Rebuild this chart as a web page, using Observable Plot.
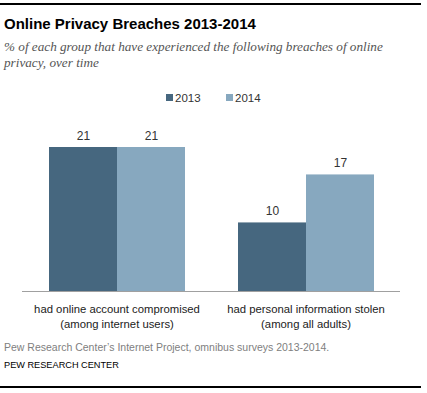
<!DOCTYPE html>
<html>
<head>
<meta charset="utf-8">
<script src="https://cdn.jsdelivr.net/npm/d3@7"></script>
<script src="https://cdn.jsdelivr.net/npm/@observablehq/plot@0.6"></script>
<style>
  html, body { margin: 0; padding: 0; background: #fff; overflow: hidden; width: 427px; height: 393px; }
  #wrap { position: relative; width: 427px; height: 393px; overflow: hidden; font-family: "Liberation Sans", Arial, sans-serif; }
  .rule { position: absolute; left: 0; width: 421px; height: 0; border-top: 2px solid #000; }
  #title { position: absolute; left: 4px; top: 15px; font-size: 15px; font-weight: bold; color: #000; line-height: 18px; white-space: nowrap; }
  #subtitle { position: absolute; left: 4px; top: 39px; font-family: "Liberation Serif", serif; font-style: italic; font-size: 13.2px; color: #555; line-height: 16px; white-space: nowrap; }
  #legend { position: absolute; top: 91px; left: 0; width: 427px; height: 16px; font-size: 11.5px; color: #333; }
  .litem { position: absolute; white-space: nowrap; line-height: 14px; }
  .sw { display: inline-block; width: 7px; height: 7px; margin-right: 2px; vertical-align: 1px; }
  #chart { position: absolute; left: 0; top: 120px; width: 427px; height: 215px; }
  #chart svg { display: block; }
  #source { position: absolute; left: 4px; top: 341px; font-size: 10.5px; color: #808080; white-space: nowrap; line-height: 13px; }
  #credit { position: absolute; left: 4px; top: 359px; font-size: 9.2px; color: #000; white-space: nowrap; line-height: 12px; }
</style>
</head>
<body>
<div id="wrap">
  <div class="rule" style="top:3px"></div>
  <div id="title">Online Privacy Breaches 2013-2014</div>
  <div id="subtitle">% of each group that have experienced the following breaches of online<br>privacy, over time</div>
  <div id="legend"></div>
  <div id="chart"></div>
  <div id="source">Pew Research Center’s Internet Project, omnibus surveys 2013-2014.</div>
  <div id="credit">PEW RESEARCH CENTER</div>
  <div class="rule" style="top:386px"></div>
</div>
<script>
const categories = [
  "had online account compromised\n(among internet users)",
  "had personal information stolen\n(among all adults)"
];
const years = ["2013", "2014"];
const values2013 = [21, 10];
const values2014 = [21, 17];
const colors = ["#46677f", "#87a8bf"];

const data = [];
categories.forEach((c, i) => {
  data.push({category: c, year: years[0], value: values2013[i]});
  data.push({category: c, year: years[1], value: values2014[i]});
});

// legend
const legend = document.getElementById("legend");
const legendX = [166, 226];
years.forEach((y, i) => {
  const d = document.createElement("div");
  d.className = "litem";
  d.style.left = legendX[i] + "px";
  d.innerHTML = `<span class="sw" style="background:${colors[i]}"></span>${y}`;
  legend.appendChild(d);
});

const chart = Plot.plot({
  width: 427,
  height: 215,
  marginLeft: 22,
  marginRight: 27,
  marginTop: 27,
  marginBottom: 44,
  style: {fontFamily: "Liberation Sans, Arial, sans-serif", fontSize: "11px", color: "#222", background: "transparent", overflow: "hidden"},
  fx: {domain: categories, padding: 0, label: null},
  x: {domain: years, paddingInner: 0, paddingOuter: 0.37, axis: null},
  y: {domain: [0, 21], axis: null},
  color: {domain: years, range: colors},
  marks: [
    Plot.barY(data, {fx: "category", x: "year", y: "value", fill: "year"}),
    Plot.text(data, {fx: "category", x: "year", y: "value", text: d => String(d.value), dy: -8, lineAnchor: "bottom", fontSize: 12, fill: "#333"}),
    Plot.ruleY([0], {stroke: "#a0a0a0", strokeWidth: 1}),
    Plot.axisFx({anchor: "bottom", tickSize: 0, tickPadding: 11, lineHeight: 1.3, fontSize: 11.3, fill: "#222", label: null, style: {letterSpacing: "0.3px"}})
  ]
});
document.getElementById("chart").appendChild(chart);
</script>
</body>
</html>
